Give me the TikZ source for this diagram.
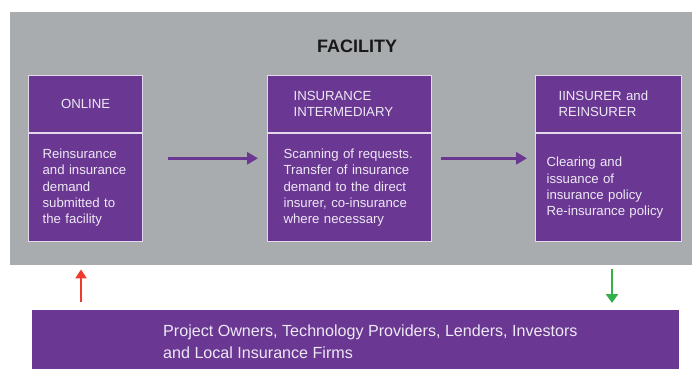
\documentclass[tikz,border=0pt]{standalone}
\usepackage{fontspec}
\setmainfont{Liberation Sans}
\usetikzlibrary{arrows.meta,positioning}
\definecolor{panelgray}{HTML}{A8ACAE}
\definecolor{boxpurple}{HTML}{6A3893}
\definecolor{boxline}{HTML}{E2DAEC}
\definecolor{boxtext}{HTML}{EEE8F4}
\definecolor{upred}{HTML}{EE3B2B}
\definecolor{downgreen}{HTML}{33B04A}

\begin{document}
\begin{tikzpicture}[x=1pt,y=-1pt,
    box/.style={draw=boxline,line width=1.2pt,fill=boxpurple,text=boxtext,anchor=north west,
      font=\fontsize{13.2}{16.3}\selectfont,align=left,inner ysep=0pt},
    head/.style={box,minimum height=57pt},
    body/.style={box,minimum height=108pt},
    flow/.style={-{Triangle[length=11pt,width=12pt]},line width=3.2pt,draw=boxpurple}]
  \useasboundingbox (0,0) rectangle (692,369);
  \node[fill=panelgray,anchor=north west,minimum width=682pt,minimum height=253pt,inner sep=0pt] (panel) at (10,12) {};
  \node[font=\bfseries\fontsize{18}{20}\selectfont,text=black!90] (facility) at (357,46) {FACILITY};

  % the three steps
  \node[head,minimum width=114pt,text width=90pt,inner xsep=12pt,align=center] (online) at (28,75) {ONLINE};
  \node[body,minimum width=114pt,text width=86pt,inner xsep=14pt,below=0pt of online] (onlinebody)
    {Reinsurance\\and insurance\\demand\\submitted to\\the facility};
  \node[head,minimum width=164pt,text width=112pt,inner xsep=26pt] (broker) at (267,75) {INSURANCE\\INTERMEDIARY};
  \node[body,minimum width=164pt,text width=132pt,inner xsep=16pt,below=0pt of broker] (brokerbody)
    {Scanning of requests.\\Transfer of insurance\\demand to the direct\\insurer, co-insurance\\where necessary};
  \node[head,minimum width=146pt,text width=100pt,inner xsep=23pt] (insurer) at (535,75) {IINSURER and\\REINSURER};
  \node[body,minimum width=146pt,text width=124pt,inner xsep=11pt,below=0pt of insurer] (insurerbody)
    {Clearing and\\issuance of\\insurance policy\\Re-insurance policy};

  \draw[flow,shorten <=25pt,shorten >=9pt] ([yshift=29.5pt]onlinebody.east) -- ([yshift=29.5pt]brokerbody.west);
  \draw[flow,shorten <=9pt,shorten >=8pt] ([yshift=29.5pt]brokerbody.east) -- ([yshift=29.5pt]insurerbody.west);

  % stakeholders
  \node[fill=boxpurple,anchor=north west,minimum width=647pt,minimum height=59pt,inner sep=0pt] (users) at (32,310) {};
  \node[anchor=west,align=left,text=boxtext,font=\fontsize{16.1}{22}\selectfont,inner sep=0pt] (userstext)
    at ([xshift=131pt,yshift=-2.5pt]users.west)
    {Project Owners, Technology Providers, Lenders, Investors\\and Local Insurance Firms};

  \coordinate (upfoot) at ([xshift=49pt]users.north west);
  \coordinate (downtip) at ([xshift=580pt]users.north west);
  \draw[-{Triangle[length=9pt,width=11pt]},line width=2.2pt,draw=upred,shorten <=8pt,shorten >=4pt]
    (upfoot) -- (upfoot |- panel.south);
  \draw[-{Triangle[length=9pt,width=12pt]},line width=2.4pt,draw=downgreen,shorten <=4pt,shorten >=7pt]
    (downtip |- panel.south) -- (downtip);
\end{tikzpicture}
\end{document}
